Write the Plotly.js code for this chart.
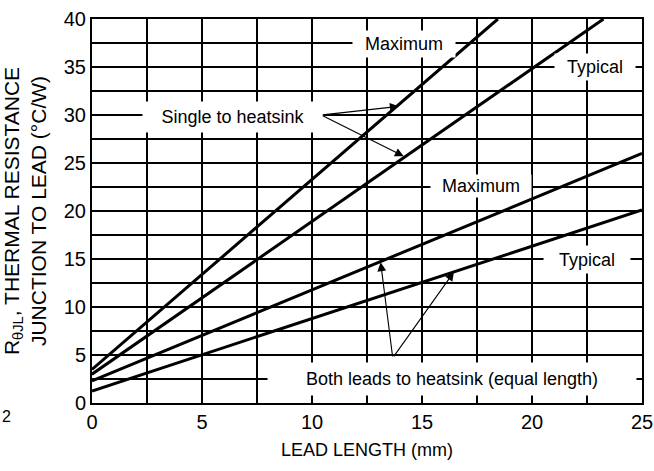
<!DOCTYPE html>
<html>
<head>
<meta charset="utf-8">
<script src="https://cdn.plot.ly/plotly-3.0.1.min.js"></script>
<style>html,body{margin:0;padding:0;background:#fff;}#chart{width:654px;height:471px;}</style>
</head>
<body>
<div id="chart"></div>
<script>
// Data
const singleMaxX = [0, 18.45];
const singleMaxY = [3.5, 40];
const singleTypX = [0, 23.25];
const singleTypY = [3.0, 40];
const bothMaxX = [0, 25];
const bothMaxY = [2.3, 26.0];
const bothTypX = [0, 25];
const bothTypY = [1.25, 20.1];
const xTicks = [0, 5, 10, 15, 20, 25];
const yTicks = [0, 5, 10, 15, 20, 25, 30, 35, 40];

const SANS = '"Liberation Sans", Arial, Helvetica, sans-serif';

const lineStyle = {color: '#000', width: 3};
const traces = [
  {x: singleMaxX, y: singleMaxY, mode: 'lines', line: lineStyle, name: 'Single Max'},
  {x: singleTypX, y: singleTypY, mode: 'lines', line: lineStyle, name: 'Single Typ'},
  {x: bothMaxX, y: bothMaxY, mode: 'lines', line: lineStyle, name: 'Both Max'},
  {x: bothTypX, y: bothTypY, mode: 'lines', line: lineStyle, name: 'Both Typ'}
];

function label(text, x, y, w, h) {
  return {text: text, x: x, y: y, xref: 'x', yref: 'y', showarrow: false,
    bgcolor: '#fff', width: w, height: h, borderpad: 0,
    font: {family: SANS, size: 18, color: '#000'}};
}
function arrow(x0, y0, x1, y1) {
  return {text: '', x: x1, y: y1, ax: x0, ay: y0, xref: 'x', yref: 'y', axref: 'x', ayref: 'y',
    showarrow: true, arrowhead: 2, arrowsize: 1.6, arrowwidth: 1.1, arrowcolor: '#000', standoff: 0, startstandoff: 0};
}

const annotations = [
  label('Maximum', 14.2, 37.4, 102, 26),
  label('Typical', 22.85, 35, 80, 26),
  label('Single to heatsink', 6.4, 29.8, 180, 30),
  label('Maximum', 17.7, 22.6, 100, 22),
  label('Typical', 22.5, 15, 86, 27),
  label('Both leads to heatsink (equal length)', 16.35, 2.5, 368, 32),
  arrow(10.42, 30.0, 13.94, 30.9),
  arrow(10.42, 30.0, 14.17, 25.7),
  arrow(13.67, 4.7, 13.12, 14.65),
  arrow(13.67, 4.7, 16.45, 13.65),
  {text: '2', xref: 'paper', yref: 'paper', x: -0.167, y: -0.034, xanchor: 'left', yanchor: 'middle',
    showarrow: false, font: {family: SANS, size: 16, color: '#000'}}
];

const layout = {
  width: 654, height: 471,
  margin: {l: 92, r: 12, t: 19, b: 68},
  paper_bgcolor: '#fff', plot_bgcolor: '#fff',
  showlegend: false,
  font: {family: SANS, color: '#000'},
  xaxis: {
    range: [0, 25], tickvals: xTicks, ticktext: xTicks.map(String),
    showgrid: true, gridcolor: '#000', gridwidth: 1.2,
    minor: {dtick: 2.5, showgrid: true, gridcolor: '#000', gridwidth: 1.2},
    zeroline: false, showline: true, mirror: true, linecolor: '#000', linewidth: 2,
    ticks: '', ticklabelstandoff: 0,
    tickfont: {family: SANS, size: 20, color: '#000'},
    title: {text: 'LEAD LENGTH (mm)', font: {family: SANS, size: 18, color: '#000'}, standoff: 11}
  },
  yaxis: {
    range: [0, 40], tickvals: yTicks, ticktext: yTicks.map(String),
    showgrid: true, gridcolor: '#000', gridwidth: 1.2,
    minor: {dtick: 2.5, showgrid: true, gridcolor: '#000', gridwidth: 1.2},
    zeroline: false, showline: true, mirror: true, linecolor: '#000', linewidth: 2,
    ticks: '', ticklabelstandoff: 0,
    tickfont: {family: SANS, size: 20, color: '#000'},
    title: {text: 'R<sub>θJL</sub>, THERMAL RESISTANCE<br>JUNCTION TO LEAD (°C/W)', font: {family: SANS, size: 21, color: '#000'}, standoff: 14}
  },
  annotations: annotations
};

Plotly.newPlot('chart', traces, layout, {displayModeBar: false, staticPlot: true});
</script>
</body>
</html>
